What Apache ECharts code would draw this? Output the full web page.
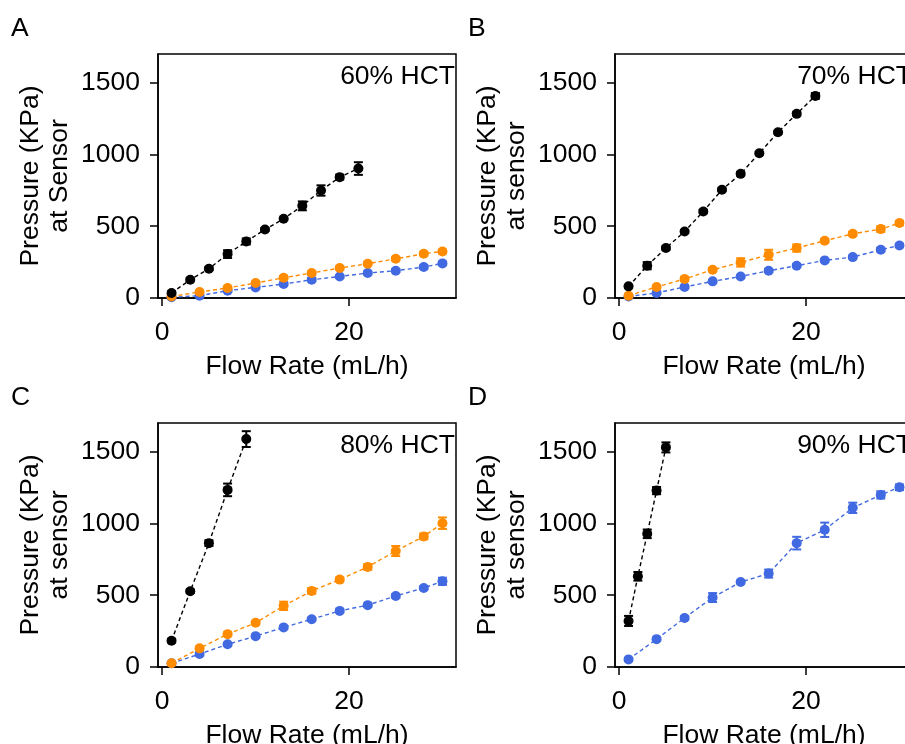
<!DOCTYPE html>
<html>
<head>
<meta charset="utf-8">
<script src="https://cdn.jsdelivr.net/npm/echarts@6/dist/echarts.min.js"></script>
<style>
html, body { margin: 0; padding: 0; background: #fff; }
#chart { width: 905px; height: 744px; }
</style>
</head>
<body>
<div id="chart"></div>
<script>
// flow rates (mL/h)
var flowOdd = [1, 3, 5, 7, 9, 11, 13, 15, 17, 19, 21];
var flowLong = [1, 4, 7, 10, 13, 16, 19, 22, 25, 28, 30];
var flowC = [1, 3, 5, 7, 9];
var flowD = [1, 2, 3, 4, 5];

// pressures (KPa) and error bars, panel A: 60% HCT
var aBlack = [35, 127, 204, 306, 394, 477, 552, 642, 749, 842, 902];
var aBlackErr = [12, 10, 10, 27, 21, 10, 8, 31, 36, 17, 44];
var aOrange = [11, 42, 70, 104, 141, 174, 209, 239, 273, 308, 324];
var aOrangeErr = [8, 8, 10, 10, 10, 12, 10, 10, 12, 12, 14];
var aBlue = [5, 16, 51, 74, 97, 127, 150, 174, 190, 216, 241];
var aBlueErr = [6, 8, 8, 8, 10, 10, 10, 10, 10, 12, 12];

// panel B: 70% HCT
var bBlack = [81, 225, 348, 463, 603, 754, 865, 1009, 1155, 1283, 1408];
var bBlackErr = [10, 25, 12, 10, 12, 10, 12, 10, 10, 12, 20];
var bOrange = [16, 77, 132, 197, 248, 301, 348, 399, 447, 480, 522];
var bOrangeErr = [8, 10, 15, 12, 29, 35, 25, 12, 12, 20, 15];
var bBlue = [11, 35, 77, 116, 150, 190, 225, 262, 285, 336, 366];
var bBlueErr = [6, 10, 10, 10, 10, 10, 10, 10, 10, 12, 12];

// panel C: 80% HCT
var cBlack = [183, 528, 863, 1234, 1588];
var cBlackErr = [12, 12, 20, 44, 55];
var cOrange = [26, 130, 229, 308, 426, 530, 609, 697, 808, 910, 1002];
var cOrangeErr = [8, 12, 12, 12, 29, 20, 15, 20, 35, 20, 40];
var cBlue = [26, 90, 158, 215, 276, 333, 391, 431, 495, 551, 597];
var cBlueErr = [8, 10, 10, 10, 10, 10, 10, 10, 12, 12, 25];

// panel D: 90% HCT
var dBlack = [321, 632, 928, 1229, 1530];
var dBlackErr = [35, 30, 30, 25, 35];
var dBlue = [53, 194, 342, 484, 592, 651, 863, 956, 1109, 1199, 1252];
var dBlueErr = [10, 10, 12, 31, 10, 28, 44, 50, 36, 25, 20];

var xTicks = [0, 20];
var yTicks = [0, 500, 1000, 1500];

var FONT = 'Liberation Sans, Arial, sans-serif';
var FS = 26.5;
var BLACK = '#000000', ORANGE = '#ff8c00', BLUE = '#4169e1';

var panels = [
    { letter: 'A', title: '60% HCT', yName: 'Pressure (KPa)\nat Sensor', left: 158, top: 54,
      sets: [[flowLong, aBlue, aBlueErr, BLUE], [flowLong, aOrange, aOrangeErr, ORANGE], [flowOdd, aBlack, aBlackErr, BLACK]] },
    { letter: 'B', title: '70% HCT', yName: 'Pressure (KPa)\nat sensor', left: 615, top: 54,
      sets: [[flowLong, bBlue, bBlueErr, BLUE], [flowLong, bOrange, bOrangeErr, ORANGE], [flowOdd, bBlack, bBlackErr, BLACK]] },
    { letter: 'C', title: '80% HCT', yName: 'Pressure (KPa)\nat sensor', left: 158, top: 423,
      sets: [[flowLong, cBlue, cBlueErr, BLUE], [flowLong, cOrange, cOrangeErr, ORANGE], [flowC, cBlack, cBlackErr, BLACK]] },
    { letter: 'D', title: '90% HCT', yName: 'Pressure (KPa)\nat sensor', left: 615, top: 423,
      sets: [[flowLong, dBlue, dBlueErr, BLUE], [flowD, dBlack, dBlackErr, BLACK]] }
];
var W = 298, H = 244;

function pairs(xs, ys) {
    return xs.map(function(x, i) { return [x, ys[i]]; });
}

function errRows(xs, ys, es) {
    return xs.map(function(x, i) { return [x, ys[i] - es[i], ys[i] + es[i]]; });
}

function renderErr(params, api) {
    var x = api.value(0);
    var lo = api.coord([x, api.value(1)]);
    var hi = api.coord([x, api.value(2)]);
    var cap = 4.5;
    var style = { stroke: api.visual('color'), lineWidth: 2 };
    return {
        type: 'group',
        children: [
            { type: 'line', shape: { x1: lo[0], y1: lo[1], x2: hi[0], y2: hi[1] }, style: style },
            { type: 'line', shape: { x1: lo[0] - cap, y1: lo[1], x2: lo[0] + cap, y2: lo[1] }, style: style },
            { type: 'line', shape: { x1: hi[0] - cap, y1: hi[1], x2: hi[0] + cap, y2: hi[1] }, style: style }
        ]
    };
}

var grids = [], xAxes = [], yAxes = [], series = [], graphics = [];

panels.forEach(function(p, k) {
    grids.push({
        left: p.left, top: p.top, width: W, height: H,
        containLabel: false, outerBoundsMode: 'none',
        show: true, borderColor: '#000', borderWidth: 1.5, backgroundColor: 'transparent'
    });
    xAxes.push({
        type: 'value', gridIndex: k, min: -0.45, max: 31.45,
        name: 'Flow Rate (mL/h)', nameLocation: 'middle', nameGap: 55,
        nameTextStyle: { fontFamily: FONT, fontSize: FS, color: '#000' },
        axisLine: { onZero: false, lineStyle: { color: '#000', width: 1.5 } },
        axisTick: { show: true, length: 8, lineStyle: { color: '#000', width: 1.5 }, customValues: xTicks },
        axisLabel: { fontFamily: FONT, fontSize: FS, color: '#000', margin: 21, customValues: xTicks },
        splitLine: { show: false }
    });
    yAxes.push({
        type: 'value', gridIndex: k, min: 0, max: 1700,
        name: p.yName, nameLocation: 'middle', nameGap: 84, nameRotate: 90,
        nameTextStyle: { fontFamily: FONT, fontSize: FS, color: '#000', lineHeight: 29 },
        axisLine: { show: true, onZero: false, lineStyle: { color: '#000', width: 1.5 } },
        axisTick: { show: true, length: 8, lineStyle: { color: '#000', width: 1.5 }, customValues: yTicks },
        axisLabel: {
            fontFamily: FONT, fontSize: FS, color: '#000', margin: 18, customValues: yTicks,
            formatter: function(v) { return String(v); }
        },
        splitLine: { show: false }
    });
    p.sets.forEach(function(s) {
        series.push({
            type: 'line', xAxisIndex: k, yAxisIndex: k,
            data: pairs(s[0], s[1]),
            symbol: 'circle', symbolSize: 10,
            itemStyle: { color: s[3] },
            lineStyle: { color: s[3], width: 1.4, type: [4, 3] },
            animation: false
        });
        series.push({
            type: 'custom', xAxisIndex: k, yAxisIndex: k,
            data: errRows(s[0], s[1], s[2]),
            itemStyle: { color: s[3] },
            renderItem: renderErr,
            animation: false
        });
    });
    graphics.push({
        type: 'text', left: p.left - 147, top: p.top - 39,
        style: { text: p.letter, font: FS + 'px ' + FONT, fill: '#000' }
    });
    graphics.push({
        type: 'text', x: p.left + W - 1, y: p.top + 9,
        style: { text: p.title, font: FS + 'px ' + FONT, fill: '#000', align: 'right', verticalAlign: 'top' }
    });
});

var myChart = echarts.init(document.getElementById('chart'));
var option = {
    backgroundColor: '#fff',
    animation: false,
    grid: grids,
    xAxis: xAxes,
    yAxis: yAxes,
    series: series,
    graphic: graphics
};
myChart.setOption(option);
</script>
</body>
</html>
